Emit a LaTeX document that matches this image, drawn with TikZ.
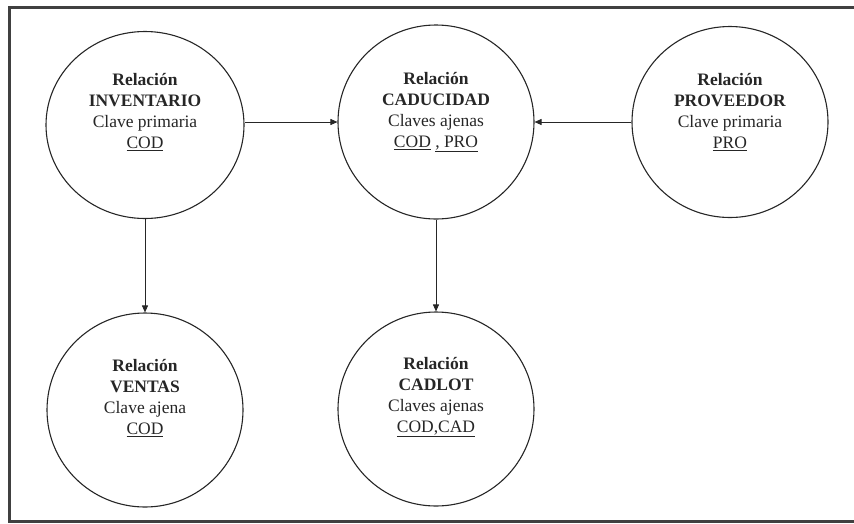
\documentclass[tikz,border=0pt]{standalone}
\usepackage{fontspec}
\setmainfont{Liberation Serif}
\usetikzlibrary{shapes.geometric,arrows.meta}
\begin{document}
\begin{tikzpicture}[x=1pt,y=-1pt,
  relshape/.style={draw=black!85, line width=1.1pt, ellipse, inner sep=0pt,
    minimum width=196pt, minimum height=194pt},
  reltext/.style={align=center, inner sep=0pt, text=black!85,
    font=\fontsize{17.5}{21}\selectfont},
  link/.style={draw=black!85, line width=0.9pt,
    -{Triangle[length=7pt,width=6pt]}}]
\useasboundingbox (0,0) rectangle (854,523);
% outer frame
\draw[line width=3pt, black!75] (880,7) -- (9,7) -- (9,521) -- (880,521);

% relations
\node[relshape, minimum width=198pt, minimum height=187pt] (inv) at (145,125) {};
\node[relshape] (cad) at (436,122) {};
\node[relshape, minimum height=191pt] (pro) at (730,122) {};
\node[relshape] (ven) at (145,410) {};
\node[relshape] (lot) at (436,409) {};

\node[reltext] (inv-t) at ([yshift=13pt]inv.center)
  {\textbf{Relación}\\\textbf{INVENTARIO}\\Clave primaria\\\underline{COD}};
\node[reltext] (cad-t) at ([yshift=10pt]cad.center)
  {\textbf{Relación}\\\textbf{CADUCIDAD}\\Claves ajenas\\\underline{COD} \underline{, PRO}};
\node[reltext] (pro-t) at ([yshift=10pt]pro.center)
  {\textbf{Relación}\\\textbf{PROVEEDOR}\\Clave primaria\\\underline{PRO}};
\node[reltext] (ven-t) at ([yshift=12pt]ven.center)
  {\textbf{Relación}\\\textbf{VENTAS}\\Clave ajena\\\underline{COD}};
\node[reltext] (lot-t) at ([yshift=12pt]lot.center)
  {\textbf{Relación}\\\textbf{CADLOT}\\Claves ajenas\\\underline{COD,CAD}};

% foreign key references
\draw[link] (cad.west -| inv.east) -- (cad.west);
\draw[link] (pro.west) -- (cad.east);
\draw[link] (inv.south) -- (ven.north);
\draw[link] (cad.south) -- (lot.north);
\end{tikzpicture}
\end{document}
